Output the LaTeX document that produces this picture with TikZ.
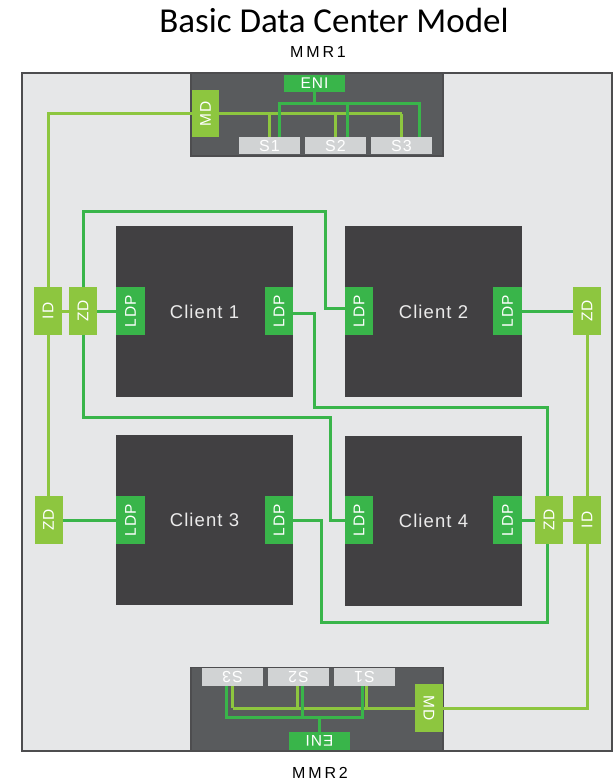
\documentclass[tikz,border=0pt]{standalone}
\usepackage{fontspec}
\usepackage{graphicx}
\setmainfont{Liberation Sans}
\newfontfamily\titlefont{Carlito}
\newfontfamily\spacedfont[LetterSpace=18]{Liberation Sans}
\newfontfamily\boxfont[LetterSpace=6]{Liberation Sans}
\usetikzlibrary{calc}
\definecolor{bgc}{HTML}{E6E7E8}
\definecolor{framec}{HTML}{4D4D4F}
\definecolor{mmrc}{HTML}{595B5D}
\definecolor{clientc}{HTML}{414042}
\definecolor{dgreen}{HTML}{39B54A}
\definecolor{lgreen}{HTML}{8DC63F}
\definecolor{sboxc}{HTML}{D1D3D4}
\begin{document}
\begin{tikzpicture}[x=1pt,y=-1pt,
  box/.style={inner sep=0pt, outer sep=0pt, text=white, font=\boxfont\fontsize{15.5}{15.5}\selectfont},
  ldpbox/.style={box, fill=dgreen, minimum width=28.5pt, minimum height=48pt},
  lgbox/.style={box, fill=lgreen, minimum width=28pt, minimum height=48pt},
  clibox/.style={box, fill=clientc, minimum width=177pt, minimum height=171pt, text=white!92!black, font=\boxfont\fontsize{18.5}{18.5}\selectfont},
  sbox/.style={box, fill=sboxc, minimum width=61pt, minimum height=17.5pt, font=\boxfont\fontsize{16}{16}\selectfont},
  enibox/.style={box, fill=dgreen, minimum width=61pt, minimum height=17pt},
  mmrbox/.style={draw=framec, line width=1.5pt, fill=mmrc, inner sep=0pt, minimum width=252pt, minimum height=83pt},
  dg/.style={draw=dgreen, line width=3pt},
  lg/.style={draw=lgreen, line width=3pt}]
\useasboundingbox (0,0) rectangle (614,784);

% titles
\node[font=\titlefont\fontsize{35}{35}\selectfont] (title) at (334,20) {Basic Data Center Model};
\node[font=\spacedfont\fontsize{16}{16}\selectfont] (lab1) at (318,52) {MMR1};
\node[font=\spacedfont\fontsize{16}{16}\selectfont] (lab2) at (320,773) {MMR2};

% background frame
\draw[fill=bgc, draw=framec, line width=1.5pt] (22,73) rectangle (612,751);

% MMR boxes
\node[mmrbox] (mmr1) at (317,114.5) {};
\node[mmrbox] (mmr2) at (317,709) {};

% MMR1 contents
\node[enibox] (eni1) at (314.5,83) {ENI};
\node[lgbox, minimum width=27pt, minimum height=47pt] (md1) at (205.5,113.5) {\rotatebox{90}{MD}};
\node[sbox] (s1t) at (269.5,145.5) {S1};
\node[sbox] (s2t) at (335.5,145.5) {S2};
\node[sbox] (s3t) at (401.5,145.5) {S3};

% MMR2 contents
\node[sbox] (s3b) at (232.5,677) {\rotatebox{180}{S3}};
\node[sbox] (s2b) at (298.5,677) {\rotatebox{180}{S2}};
\node[sbox] (s1b) at (364.5,677) {\rotatebox{180}{S1}};
\node[lgbox] (md2) at (429,708) {\rotatebox{-90}{MD}};
\node[enibox, minimum height=18pt] (eni2) at (319.5,741) {\rotatebox{180}{ENI}};

% clients
\node[clibox] (c1) at (204.5,311.5) {Client 1};
\node[clibox] (c2) at (433.5,311.5) {Client 2};
\node[clibox, minimum height=170pt] (c3) at (204.5,520) {Client 3};
\node[clibox, minimum height=170pt] (c4) at (433.5,521) {Client 4};

% LDPs
\node[ldpbox] (c1l) at (130.5,311) {\rotatebox{90}{LDP}};
\node[ldpbox] (c1r) at (279,311) {\rotatebox{90}{LDP}};
\node[ldpbox] (c2l) at (359,311) {\rotatebox{90}{LDP}};
\node[ldpbox] (c2r) at (507.5,311) {\rotatebox{90}{LDP}};
\node[ldpbox] (c3l) at (130.5,520) {\rotatebox{90}{LDP}};
\node[ldpbox] (c3r) at (279,520) {\rotatebox{90}{LDP}};
\node[ldpbox] (c4l) at (359,520) {\rotatebox{90}{LDP}};
\node[ldpbox] (c4r) at (507.5,520) {\rotatebox{90}{LDP}};

% ID / ZD
\node[lgbox] (idl) at (48,311) {\rotatebox{90}{ID}};
\node[lgbox] (zdl1) at (83,311) {\rotatebox{90}{ZD}};
\node[lgbox] (zdl2) at (48.5,520) {\rotatebox{90}{ZD}};
\node[lgbox] (zdr1) at (587,311) {\rotatebox{90}{ZD}};
\node[lgbox] (zdr2) at (549,520) {\rotatebox{90}{ZD}};
\node[lgbox] (idr) at (587,520) {\rotatebox{90}{ID}};

% bend points
\coordinate (e1) at (314.5,103);
\coordinate (e2) at (319.5,717);
\coordinate (k1) at (325,211);
\coordinate (k2) at (330,417);
\coordinate (k3) at (314,407);
\coordinate (k4) at (321,622);

% MMR1 wiring
\draw[lg] (md1.east) -- (md1.east -| s3t.north);
\foreach \s in {s1t,s2t,s3t} \draw[lg] (\s.north) -- (\s.north |- md1.east);
\draw[dg] (eni1.south) -- (e1);
\draw[dg] ([xshift=9.5pt]s1t.north) |- (e1) -| ([xshift=17.5pt]s3t.north);
\draw[dg] ([xshift=11.5pt]s2t.north) -- ([xshift=11.5pt]s2t.north |- e1);

% MMR2 wiring
\draw[lg] (md2.west) -- (md2.west -| s3b.south);
\draw[lg] (s3b.south) -- (s3b.south |- md2.west);
\draw[lg] ([xshift=-1.5pt]s2b.south) -- ([xshift=-1.5pt]s2b.south |- md2.west);
\draw[lg] ([xshift=1.5pt]s1b.south) -- ([xshift=1.5pt]s1b.south |- md2.west);
\draw[dg] (eni2.north) -- (e2);
\draw[dg] ([xshift=-6.5pt]s3b.south) |- (e2) -| ([xshift=-2.5pt]s1b.south);
\draw[dg] ([xshift=3.5pt]s2b.south) -- ([xshift=3.5pt]s2b.south |- e2);

% light green links
\draw[lg] (md1.west) -| (idl.north);
\draw[lg] (idl.south) -- (idl.south |- zdl2.north);
\draw[lg] (idl.east) -- (zdl1.west);
\draw[lg] (zdr1.south) -- (idr.north);
\draw[lg] (idr.west) -- (zdr2.east);
\draw[lg] (idr.south) |- (md2.east);

% dark green links
\draw[dg] (zdl1.east) -- (c1l.west);
\draw[dg] (zdl1.north) |- (k1) |- ([yshift=3pt]c2l.west);
\draw[dg] (zdl1.south) |- (k2) |- (c4l.west);
\draw[dg] ([yshift=-2pt]c1r.east) -| (k3) -| ([xshift=-2pt]zdr2.north);
\draw[dg] (c2r.east) -- (zdr1.west);
\draw[dg] (c4r.east) -- (zdr2.west);
\draw[dg] ([xshift=-2pt]zdr2.south) |- (k4) |- (c3r.east);
\draw[dg] (zdl2.east) -- (c3l.west);
\end{tikzpicture}
\end{document}
